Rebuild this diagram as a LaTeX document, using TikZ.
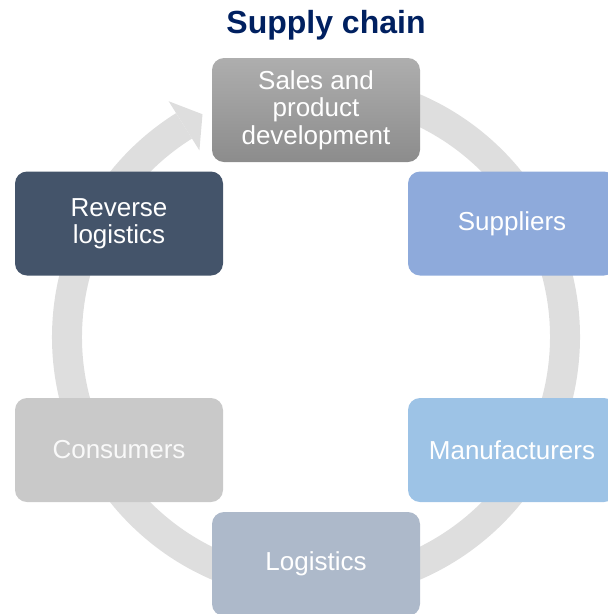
\documentclass[tikz,border=0pt]{standalone}
\usepackage{fontspec}
\setmainfont{Liberation Sans}
\usetikzlibrary{calc}
\definecolor{ringgray}{RGB}{222,222,222}
\definecolor{titleblue}{RGB}{0,32,96}
\definecolor{salestop}{RGB}{174,174,174}
\definecolor{salesbot}{RGB}{140,140,140}
\definecolor{revcol}{RGB}{68,84,106}
\definecolor{supcol}{RGB}{142,170,219}
\definecolor{mancol}{RGB}{157,195,230}
\definecolor{logcol}{RGB}{173,185,202}
\definecolor{concol}{RGB}{201,201,201}
\begin{document}
\begin{tikzpicture}[x=1pt,y=-1pt,
  stagebox/.style={rounded corners=12pt, minimum width=208pt, minimum height=104pt,
    inner sep=0pt, text=white, align=center, font=\fontsize{26}{27.5}\selectfont},
  ringline/.style={line width=30pt, draw=ringgray},
  titletext/.style={font=\bfseries\fontsize{32}{36}\selectfont, text=titleblue, inner sep=0pt}]
\useasboundingbox (0,0) rectangle (608,614);
\coordinate (c) at (316,337);
% circular arrow
\draw[ringline] ($(c)+(-85:249)$) arc[start angle=-85, end angle=238, radius=249];
\fill[ringgray] ($(c)+(-122:220)$) -- ($(c)+(-117:250)$) -- ($(c)+(-122:278)$) -- cycle;
% title
\node[titletext, anchor=base] (title) at (326,33) {Supply chain};
% stages
\node[stagebox, top color=salestop, bottom color=salesbot] (sales) at (316,110) {Sales and\\product\\development};
\node[stagebox, fill=supcol] (sup) at (512,223.5) {Suppliers};
\node[stagebox, fill=mancol] (man) at (512,450) {Manufacturers};
\node[stagebox, fill=logcol] (log) at (316,564) {Logistics};
\node[stagebox, fill=concol, text=white!95!gray] (con) at (119,450) {Consumers};
\node[stagebox, fill=revcol] (rev) at (119,223.5) {Reverse\\logistics};
\end{tikzpicture}
\end{document}
